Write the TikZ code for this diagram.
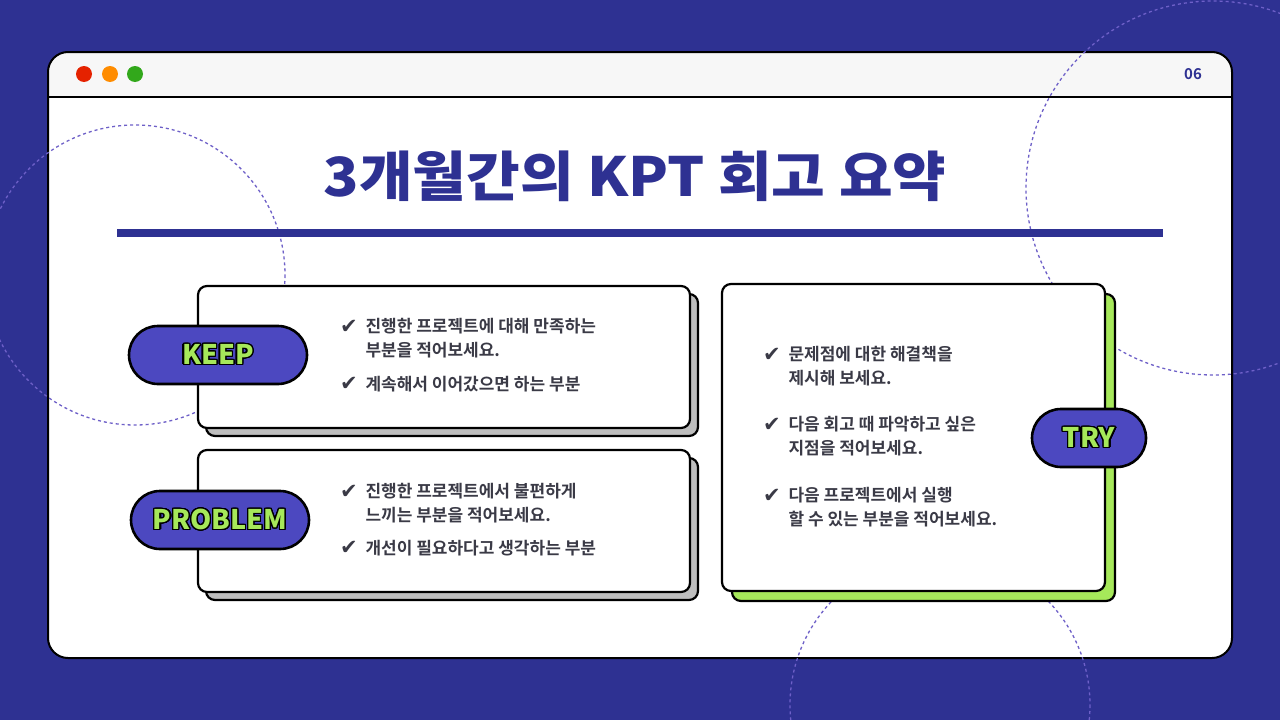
\documentclass[tikz,border=0pt]{standalone}
\usepackage{fontspec}
\setmainfont{Noto Sans CJK KR Bold}
\newfontfamily\blk{Noto Sans CJK KR Black}
\newfontfamily\dv{DejaVu Sans Bold}
\usepackage{contour}
\contourlength{1.3pt}
\contournumber{24}
\definecolor{navy}{RGB}{46,49,146}
\definecolor{pill}{RGB}{76,72,192}
\definecolor{lime}{RGB}{166,232,90}
\definecolor{txt}{RGB}{58,58,70}
\definecolor{dashc}{RGB}{110,96,200}
\definecolor{shad}{RGB}{190,190,190}
\begin{document}
\begin{tikzpicture}[x=1pt,y=-1pt,
  card/.style={draw=black,line width=2.2pt,fill=white,rounded corners=9pt},
  pillbox/.style={draw=black,line width=2.6pt,fill=pill,rounded corners=29pt,minimum height=58pt,inner sep=0pt,font=\blk\fontsize{27}{27}\selectfont},
  bul/.style={anchor=west,text=txt,font=\fontsize{17}{24}\selectfont,align=left},
  chk/.style={anchor=west,text=txt,font=\dv\fontsize{21}{21}\selectfont,inner sep=0pt},
  dcirc/.style={dashc,line width=1.3pt,dash pattern=on 3pt off 3pt}]
\useasboundingbox (0,0) rectangle (1280,720);
\fill[navy] (0,0) rectangle (1280,720);
% window
\fill[white,rounded corners=20pt] (48,52) rectangle (1232,658);
\begin{scope}
\clip[rounded corners=20pt] (48,52) rectangle (1232,658);
\fill[white!94!gray] (48,52) rectangle (1232,97);
\end{scope}
\draw[line width=2pt,rounded corners=20pt] (48,52) rectangle (1232,658);
\draw[line width=2pt] (48,97) -- (1232,97);
\fill[red!70!orange!90!black] (84,74) circle (8);
\fill[orange!90!yellow] (110,74) circle (8);
\fill[green!55!black!70!lime] (135,74) circle (8);
\node[text=navy,font=\fontsize{15}{15}\selectfont] (pg) at (1193,74) {06};
% dashed circles
\draw[dcirc] (135,275) circle (150);
\draw[dcirc] (1213,188) circle (187);
\draw[dcirc] (940,705) circle (150);
% title
\node[text=navy,font=\blk\fontsize{54}{54}\selectfont,xscale=1.08] (title) at (635,176) {3개월간의 KPT 회고 요약};
\fill[navy] (117,229) rectangle (1163,237);
% cards
\draw[card,fill=shad] (206,294) rectangle (698,436);
\draw[card] (198,286) rectangle (690,428);
\draw[card,fill=shad] (206,458) rectangle (698,600);
\draw[card] (198,450) rectangle (690,592);
\draw[card,fill=lime] (732,294) rectangle (1115,601);
\draw[card] (722,284) rectangle (1105,591);
% pills
\node[pillbox,minimum width=178pt] (keep) at (218,355) {\contour{black}{\textcolor{lime}{KEEP}}};
\node[pillbox,minimum width=178pt] (prob) at (220,520) {\contour{black}{\textcolor{lime}{PROBLEM}}};
\node[pillbox,minimum width=114pt] (try) at (1089,438) {\contour{black}{\textcolor{lime}{TRY}}};
% bullets
\node[chk] (c1) at (340,327) {✔};
\node[bul] (t1) at (362,338) {진행한 프로젝트에 대해 만족하는\\부분을 적어보세요.};
\node[chk] (c2) at (340,384) {✔};
\node[bul] (t2) at (362,384) {계속해서 이어갔으면 하는 부분};
\node[chk] (c3) at (340,492) {✔};
\node[bul] (t3) at (362,503) {진행한 프로젝트에서 불편하게\\느끼는 부분을 적어보세요.};
\node[chk] (c4) at (340,548) {✔};
\node[bul] (t4) at (362,548) {개선이 필요하다고 생각하는 부분};
\node[chk] (c5) at (763,355) {✔};
\node[bul] (t5) at (785,366) {문제점에 대한 해결책을\\제시해 보세요.};
\node[chk] (c6) at (763,425) {✔};
\node[bul] (t6) at (785,436) {다음 회고 때 파악하고 싶은\\지점을 적어보세요.};
\node[chk] (c7) at (763,496) {✔};
\node[bul] (t7) at (785,507) {다음 프로젝트에서 실행\\할 수 있는 부분을 적어보세요.};
\end{tikzpicture}
\end{document}
